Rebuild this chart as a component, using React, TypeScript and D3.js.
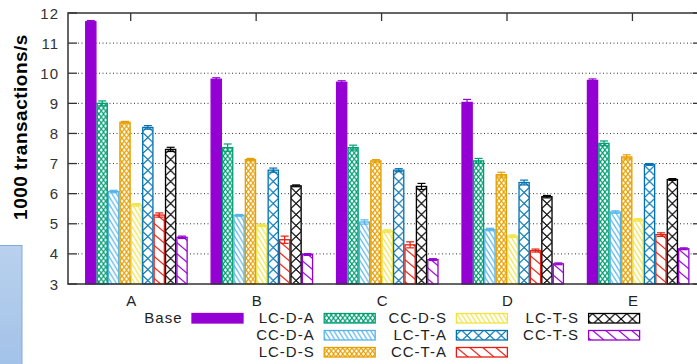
import React from "react";
import * as d3 from "d3";

const categories = ["A", "B", "C", "D", "E"];
const seriesNames = ["Base", "LC-D-A", "CC-D-A", "LC-D-S", "CC-D-S", "LC-T-A", "CC-T-A", "LC-T-S", "CC-T-S"];
const seriesColors = ["#9400d3", "#009e73", "#56b4e9", "#e69f00", "#f0e442", "#0072b2", "#e51e10", "#000000", "#9400d3"];
const seriesFills = ["solid", "xdense", "bdense", "xdense", "bdense", "xbig", "bsparse", "xbig", "bsparse"];

const baseVals = [11.71, 9.8, 9.7, 9.03, 9.76];
const lcdaVals = [9.0, 7.53, 7.53, 7.09, 7.67];
const ccdaVals = [6.07, 5.28, 5.06, 4.81, 5.39];
const lcdsVals = [8.37, 7.13, 7.09, 6.63, 7.22];
const ccdsVals = [5.63, 4.95, 4.76, 4.59, 5.13];
const lctaVals = [8.2, 6.78, 6.78, 6.37, 6.97];
const cctaVals = [5.29, 4.47, 4.3, 4.11, 4.64];
const lctsVals = [7.47, 6.26, 6.24, 5.9, 6.47];
const cctsVals = [4.55, 3.98, 3.81, 3.67, 4.17];

const baseErr = [0.04, 0.05, 0.05, 0.1, 0.05];
const lcdaErr = [0.08, 0.12, 0.08, 0.08, 0.08];
const ccdaErr = [0.04, 0.03, 0.07, 0.04, 0.04];
const lcdsErr = [0.03, 0.04, 0.04, 0.08, 0.07];
const ccdsErr = [0.04, 0.04, 0.04, 0.04, 0.04];
const lctaErr = [0.06, 0.07, 0.05, 0.08, 0.03];
const cctaErr = [0.07, 0.12, 0.1, 0.05, 0.06];
const lctsErr = [0.07, 0.03, 0.1, 0.04, 0.03];
const cctsErr = [0.04, 0.03, 0.03, 0.03, 0.03];

const yTicks = [3, 4, 5, 6, 7, 8, 9, 10, 11, 12];
const yTitle = "1000 transactions/s";

const allVals = [baseVals, lcdaVals, ccdaVals, lcdsVals, ccdsVals, lctaVals, cctaVals, lctsVals, cctsVals];
const allErrs = [baseErr, lcdaErr, ccdaErr, lcdsErr, ccdsErr, lctaErr, cctaErr, lctsErr, cctsErr];

const W = 697;
const H = 364;
const L = 68;
const R = 702;
const T = 13;
const B = 284;
const FONT = "'Liberation Sans', Arial, Helvetica, sans-serif";

const x = d3.scaleLinear().domain([0, 55.6]).range([L, R]);
const y = d3.scaleLinear().domain([3, 12]).range([B, T]);
const unit = x(1) - x(0);
const clusterStart = (i: number) => 1.5 + 11 * i;
const tickPos = (i: number) => clusterStart(i) + 4;

function patternPath(kind: string, w: number, h: number) {
  if (kind === "xdense" || kind === "xbig") {
    return `M0,0L${w},${h}M${w},0L0,${h}`;
  }
  return `M${-w},${-h}L${2 * w},${2 * h}M0,${-h}L${3 * w},${2 * h}M${-2 * w},${-h}L${w},${2 * h}`;
}
function patternSize(kind: string): [number, number] {
  if (kind === "xdense") return [4.6, 6];
  if (kind === "xbig") return [unit, 11];
  if (kind === "bdense") return [4.6, 7.5];
  return [13, 11];
}

export default function App() {
  const fillFor = (s: number) => (seriesFills[s] === "solid" ? seriesColors[s] : `url(#pat${s})`);
  return (
    <svg width={W} height={H} style={{ position: "absolute", left: 0, top: 0, background: "#fff" }} fontFamily={FONT}>
      <defs>
        {seriesNames.map((_, s) => {
          if (seriesFills[s] === "solid") return null;
          const [pw, ph] = patternSize(seriesFills[s]);
          return (
            <pattern key={s} id={`pat${s}`} patternUnits="userSpaceOnUse" x={x(1.5)} y={0} width={pw} height={ph}>
              <rect width={pw} height={ph} fill="#fff" />
              <path d={patternPath(seriesFills[s], pw, ph)} stroke={seriesColors[s]} strokeWidth={1.2} fill="none" />
            </pattern>
          );
        })}
        <linearGradient id="boxgrad" x1="0" y1="0" x2="0" y2="1">
          <stop offset="0" stopColor="#b9d1ee" />
          <stop offset="1" stopColor="#a3c2e8" />
        </linearGradient>
      </defs>
      <rect x={0} y={0} width={W} height={H} fill="#fff" />
      <rect x={-1} y={245.5} width={23} height={120} fill="url(#boxgrad)" stroke="#82acdc" strokeWidth={1} />

      {/* grid */}
      {yTicks.slice(1, -1).map((t) => (
        <line key={"g" + t} x1={L + 10} x2={R - 10} y1={y(t)} y2={y(t)} stroke="#333" strokeWidth={1} strokeDasharray="1,2.5" />
      ))}
      {/* y ticks */}
      {yTicks.map((t) => (
        <g key={"t" + t}>
          <line x1={L} x2={L + 9} y1={y(t)} y2={y(t)} stroke="#333" strokeWidth={1.3} />
          <line x1={R - 9} x2={R} y1={y(t)} y2={y(t)} stroke="#333" strokeWidth={1.3} />
          <text x={59} y={y(t) + 5.5} textAnchor="end" fontSize={15} letterSpacing={1} fill="#333">
            {t}
          </text>
        </g>
      ))}
      {/* x ticks */}
      {categories.map((c, i) => (
        <g key={"x" + c}>
          <line x1={x(tickPos(i))} x2={x(tickPos(i))} y1={T} y2={T + 8} stroke="#333" strokeWidth={1.3} />
          <line x1={x(tickPos(i))} x2={x(tickPos(i))} y1={B} y2={B - 8} stroke="#333" strokeWidth={1.3} />
          <text x={x(tickPos(i)) + 1} y={306} textAnchor="middle" fontSize={15} letterSpacing={1} fill="#222">
            {c}
          </text>
        </g>
      ))}

      {/* bars */}
      {categories.map((c, i) =>
        seriesNames.map((sn, s) => {
          const v = allVals[s][i];
          const e = allErrs[s][i];
          const bx = x(clusterStart(i) + s);
          const cx = bx + unit / 2;
          return (
            <g key={c + sn}>
              <rect x={bx + 0.6} y={y(v)} width={unit - 1.2} height={y(3) - y(v)} fill={fillFor(s)} stroke={seriesColors[s]} strokeWidth={1.3} />
              <line x1={cx} x2={cx} y1={y(v - e)} y2={y(v + e)} stroke={seriesColors[s]} strokeWidth={1.2} />
              <line x1={cx - 4} x2={cx + 4} y1={y(v + e)} y2={y(v + e)} stroke={seriesColors[s]} strokeWidth={1.2} />
              <line x1={cx - 4} x2={cx + 4} y1={y(v - e)} y2={y(v - e)} stroke={seriesColors[s]} strokeWidth={1.2} />
            </g>
          );
        })
      )}

      {/* border */}
      <rect x={L} y={T} width={R - L} height={B - T} fill="none" stroke="#333" strokeWidth={1.5} />

      {/* y title */}
      <text transform={`translate(26.5,127) rotate(-90)`} textAnchor="middle" fontSize={19} fontWeight="bold" letterSpacing={0.5} fill="#000">
        {yTitle}
      </text>

      {/* legend */}
      {seriesNames.map((sn, s) => {
        const col = s === 0 ? 0 : 1 + Math.floor((s - 1) / 3);
        const row = s === 0 ? 0 : (s - 1) % 3;
        const lx = 182.5 + 132.2 * col;
        const ly = 322.5 + 17 * row;
        return (
          <g key={"lg" + sn}>
            <text x={lx} y={ly} textAnchor="end" fontSize={15} letterSpacing={1} fill="#222">
              {sn}
            </text>
            <rect x={lx + 9.5} y={ly - 9} width={51} height={9.5} fill={fillFor(s)} stroke={seriesColors[s]} strokeWidth={1.3} />
          </g>
        );
      })}
    </svg>
  );
}
